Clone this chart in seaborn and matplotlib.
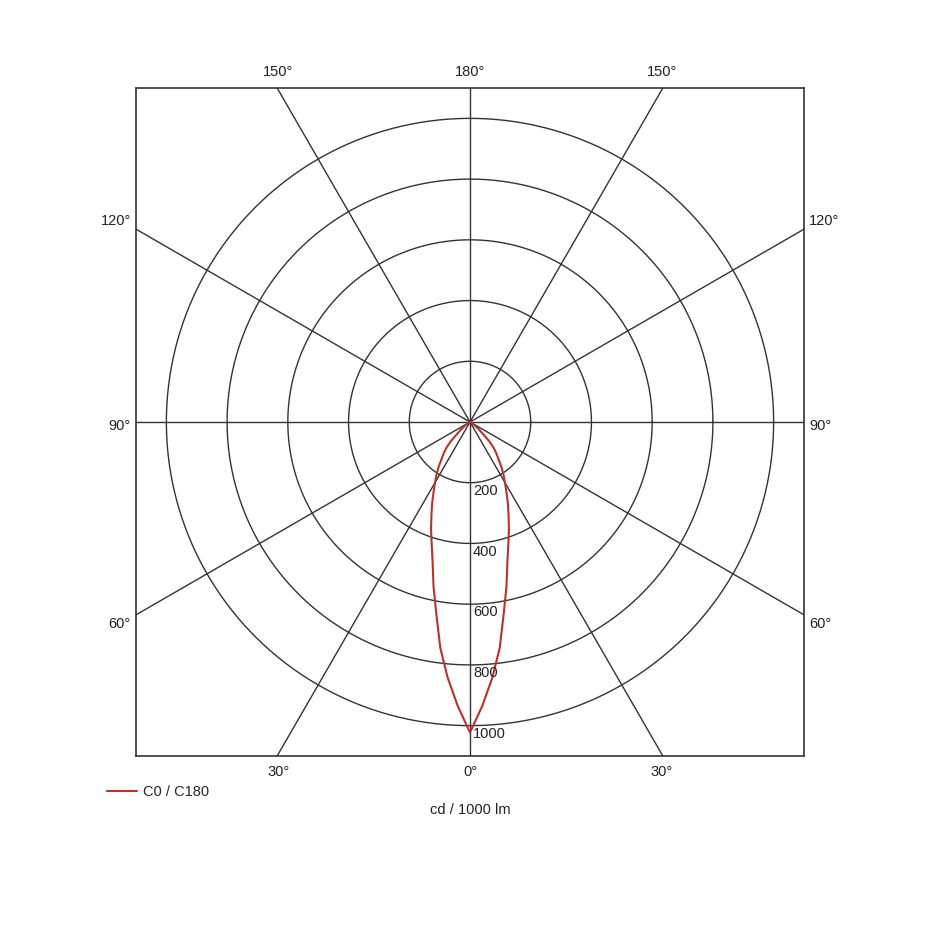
import numpy as np
import pandas as pd
import matplotlib
matplotlib.use("Agg")
import matplotlib.pyplot as plt
import seaborn as sns

# --- dane (cd / 1000 lm) ---
gamma_deg = [0, 2.5, 5, 7.5, 10, 12.5, 15, 17.5, 20, 22.5, 25, 27.5, 30, 32.5, 35,
             40, 42.5, 45, 50, 55, 60, 65, 70, 80, 90]
intensity_c0 = [1023, 935, 845, 750, 640, 555, 476, 420, 375, 332, 295, 260, 230, 205, 180,
                135, 115, 90, 40, 17, 5, 0, 0, 0, 0]
intensity_c180 = intensity_c0  # krzywa symetryczna

ring_values = [200, 400, 600, 800, 1000]
spoke_angles = [0, 30, 60, 90, 120, 150]
series_label = "C0 / C180"
unit_label = "cd / 1000 lm"

RED = "#b8322e"
GRID = "#333333"
LIM = 1100

sns.set_theme(style="white")
plt.rcParams["font.family"] = ["Liberation Sans", "DejaVu Sans"]

fig = plt.figure(figsize=(9.4, 9.4), dpi=100)
ax = fig.add_axes([136 / 940, 1 - 756 / 940, 668 / 940, 668 / 940])

# okręgi
t = np.linspace(0, 2 * np.pi, 400)
for r in ring_values:
    ax.plot(r * np.cos(t), r * np.sin(t), color=GRID, lw=1.0, zorder=1)

# promienie co 30 stopni
for a in spoke_angles:
    rad = np.deg2rad(a)
    L = 3 * LIM
    ax.plot([-L * np.sin(rad), L * np.sin(rad)], [-L * np.cos(rad), L * np.cos(rad)],
            color=GRID, lw=1.0, zorder=1)

# krzywa rozsyłu: lewa połowa C180, prawa C0
g = np.deg2rad(np.array(gamma_deg, dtype=float))
left = pd.DataFrame({"x": -np.array(intensity_c180) * np.sin(g),
                     "y": -np.array(intensity_c180) * np.cos(g)}).iloc[::-1]
right = pd.DataFrame({"x": np.array(intensity_c0) * np.sin(g),
                      "y": -np.array(intensity_c0) * np.cos(g)})
curve = pd.concat([left, right.iloc[1:]], ignore_index=True)
sns.lineplot(data=curve, x="x", y="y", sort=False, estimator=None,
             color=RED, lw=1.5, ax=ax, zorder=3, label=series_label, legend=False)

# etykiety natężenia
for r in ring_values:
    ax.text(10, -(r + 27), str(r), fontsize=10.5, color="#222222",
            ha="left", va="center", zorder=4)

ax.set_xlim(-LIM, LIM)
ax.set_ylim(-LIM, LIM)
ax.set_aspect("equal")
ax.set_xticks([])
ax.set_yticks([])
ax.set_xlabel("")
ax.set_ylabel("")
for s in ax.spines.values():
    s.set_color(GRID)
    s.set_linewidth(1.2)

# etykiety kątów poza ramką
lab_kw = dict(fontsize=10.5, color="#222222", va="center", clip_on=False)
top_y, bot_y = 1153, -1153
ax.text(0, top_y, "180°", ha="center", **lab_kw)
for sx in (-1, 1):
    ax.text(sx * 632, top_y, "150°", ha="center", **lab_kw)
    ax.text(sx * 632, bot_y, "30°", ha="center", **lab_kw)
ax.text(0, bot_y, "0°", ha="center", **lab_kw)
for sx, ha in ((-1, "right"), (1, "left")):
    ax.text(sx * 1117, 662, "120°", ha=ha, **lab_kw)
    ax.text(sx * 1117, -14, "90°", ha=ha, **lab_kw)
    ax.text(sx * 1117, -666, "60°", ha=ha, **lab_kw)

# legenda i jednostka
handles, labels = ax.get_legend_handles_labels()
fig.legend(handles, labels, loc="center left", bbox_to_anchor=(107 / 940, 1 - 792 / 940),
           frameon=False, fontsize=10.5, handlelength=2.05, handletextpad=0.4,
           borderpad=0, borderaxespad=0)
fig.text(470 / 940, 1 - 810 / 940, unit_label, ha="center", va="center",
         fontsize=10.5, color="#222222")

fig.savefig("out.png", dpi=100, facecolor="white")
